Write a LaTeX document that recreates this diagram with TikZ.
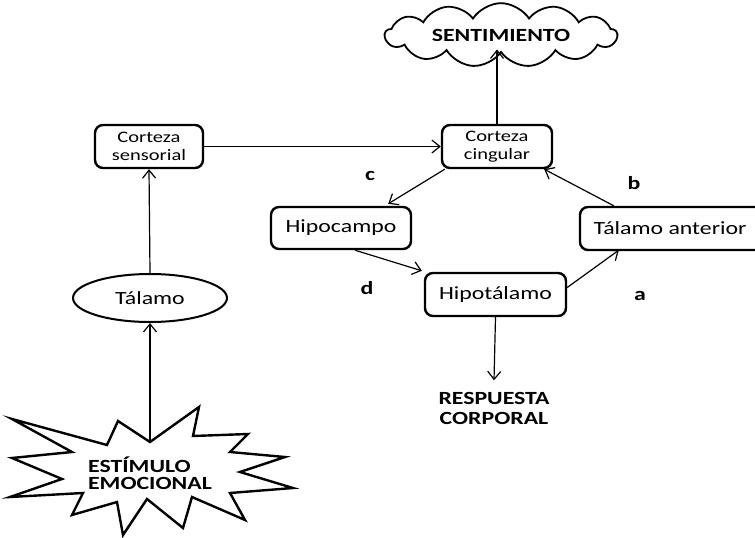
\documentclass[tikz,border=0pt]{standalone}
\usepackage{fontspec}
\setmainfont{Carlito}[FakeStretch=1.28]
\usetikzlibrary{shapes.geometric,shapes.symbols,arrows.meta,calc}

\begin{document}
\begin{tikzpicture}[x=1pt,y=-1pt,font=\fontsize{18.6}{20}\selectfont,
    box/.style={draw,line width=2.4pt,rounded corners=8pt,align=center,inner sep=0pt},
    arr/.style={-{Straight Barb[length=8pt,width=13pt]},line width=1.2pt},
    lbl/.style={font=\fontsize{18.6}{20}\selectfont\bfseries}]

  \useasboundingbox (0,0) rectangle (755,538);

  % top of the loop
  \node [cloud,draw,line width=1.8pt,cloud puffs=13,cloud puff arc=115,aspect=5,
    minimum width=232pt,minimum height=44pt,inner sep=0pt,lbl] (sent) at (501,35) {SENTIMIENTO};
  \node [box,minimum width=110pt,minimum height=43pt,
    font=\fontsize{16}{17.7}\selectfont] (cing) at (497,146.5) {Corteza\\cingular};
  \node [box,minimum width=108pt,minimum height=43pt,
    font=\fontsize{16}{17.7}\selectfont] (sens) at (149,146.5) {Corteza\\sensorial};

  % circuit
  \node [box,minimum width=140pt,minimum height=42pt] (hipo) at (341,228) {Hipocampo};
  \node [box,minimum width=190pt,minimum height=43pt] (tant) at (675,228.5) {\hspace*{-10pt}Tálamo anterior};
  \node [box,minimum width=141pt,minimum height=43pt] (hipt) at (495.5,294.5) {Hipotálamo};
  \node [ellipse,draw,line width=2pt,minimum width=154pt,minimum height=48pt,inner sep=0pt]
    (tal) at (150,298) {Tálamo};

  \node [lbl] (la) at (640,296) {a};
  \node [lbl] (lb) at (634,183) {b};
  \node [lbl] (lc) at (370,176) {c};
  \node [lbl] (ld) at (367,288) {d};

  \node [lbl,align=center] (resp) at (494,408) {RESPUESTA\\CORPORAL};

  % stimulus
  \draw [line width=2.4pt,line join=miter] (150,442) coordinate (etop) -- (199,407) -- (193,436)
    -- (248,434) -- (230,452) -- (285,457) -- (240,472) -- (293,488) -- (230,493)
    -- (245,520) -- (192,497) -- (183,528) -- (147,499) -- (123,535) -- (117,502)
    -- (72,515) -- (83,493) -- (10,497) -- (62,479) -- (12,458) -- (72,452)
    -- (12,419) -- (107,445) -- (118,421) -- cycle;
  \node [lbl,align=left,font=\fontsize{18.6}{17.5}\selectfont\bfseries] (estim) at (150,473) {ESTÍMULO\\EMOCIONAL};

  % connectors
  \draw [arr] (etop) -- (tal.south);
  \draw [arr] (tal.north) -- (sens.south);
  \draw [arr] (sens.east) -- (cing.west);
  \draw [arr] (cing.north) -- ($(sent.south)+(-4,-4)$);
  \draw [arr] ($(cing.south west)+(4,0)$) -- ($(hipo.north east)+(-24,-2)$);
  \draw [arr] ($(hipo.south)+(14,0)$) -- ($(hipt.north west)+(-2,-1)$);
  \draw [arr] ($(hipt.east)+(0,-7)$) -- ($(tant.south west)+(40,-1)$);
  \draw [arr] ($(tant.north west)+(35,0)$) -- ($(cing.south east)+(-9,0)$);
  \draw [arr] (hipt.south) -- ($(resp.north)+(0,-8)$);

\end{tikzpicture}
\end{document}
